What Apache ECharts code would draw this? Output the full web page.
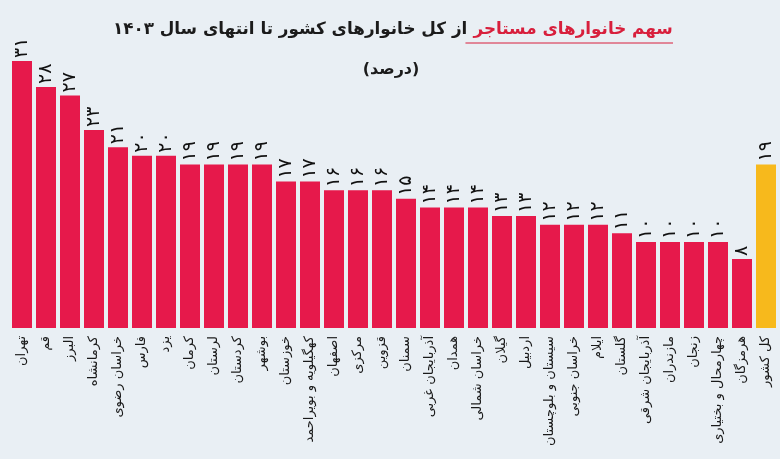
<!DOCTYPE html>
<html><head><meta charset="utf-8">
<script src="https://cdn.jsdelivr.net/npm/echarts@6/dist/echarts.min.js"></script>
<style>html,body{margin:0;padding:0;background:#e9eff4;}#c{width:780px;height:459px;}</style>
</head><body><div id="c"></div>
<script>
const categories = ['تهران','قم','البرز','کرمانشاه','خراسان رضوی','فارس','یزد','کرمان','لرستان','کردستان','بوشهر','خوزستان','کهگیلویه و بویراحمد','اصفهان','مرکزی','قزوین','سمنان','آذربایجان غربی','همدان','خراسان شمالی','گیلان','اردبیل','سیستان و بلوچستان','خراسان جنوبی','ایلام','گلستان','آذربایجان شرقی','مازندران','زنجان','چهارمحال و بختیاری','هرمزگان','کل کشور'];
const values = [31,28,27,23,21,20,20,19,19,19,19,17,17,16,16,16,15,14,14,14,13,13,12,12,12,11,10,10,10,10,8,19];
const highlight = ['کل کشور'];
const titleBlack = 'از کل خانوارهای کشور تا انتهای سال ۱۴۰۳';
const titleRed = 'سهم خانوارهای مستاجر';
const subtitle = '(درصد)';

const fa = n => String(n).replace(/[0-9]/g, d => '۰۱۲۳۴۵۶۷۸۹'[d]);

const FONT = '"DejaVu Sans", sans-serif';
const cv = document.createElement('canvas').getContext('2d');
cv.font = 'bold 20px ' + FONT;
const wB0 = cv.measureText(titleBlack).width, wR0 = cv.measureText(titleRed).width, wS0 = cv.measureText(' ').width;
const targetW = 560;
const fs = Math.min(22, 20 * targetW / (wB0 + wR0 + wS0));
const k = fs / 20;
const wB = wB0 * k, wR = wR0 * k, wS = wS0 * k;
const cx = 393;
const x0 = cx - (wB + wS + wR) / 2;
const redX = x0 + wB + wS;

const chart = echarts.init(document.getElementById('c'));
chart.setOption({
  backgroundColor: '#e9eff4',
  animation: false,
  grid: {left: 10, right: 2, top: 18, bottom: 131},
  xAxis: {
    type: 'category', data: categories,
    axisLine: {show: false}, axisTick: {show: false},
    axisLabel: {rotate: 90, interval: 0, margin: 8, color: '#1a1a1a', fontSize: 13, fontFamily: FONT}
  },
  yAxis: {type: 'value', min: 0, max: 36, show: false, splitLine: {show: false}},
  series: [{
    type: 'bar', barWidth: 20,
    data: values.map((v, i) => ({value: v, itemStyle: {color: highlight.includes(categories[i]) ? '#f7b91c' : '#e6194b'}})),
    label: {
      show: true, position: 'top', rotate: 90, align: 'left', verticalAlign: 'middle', distance: 3,
      formatter: p => fa(p.value), color: '#111', fontSize: 19, fontFamily: FONT
    }
  }],
  graphic: [
    {type: 'text', x: x0, y: 30, style: {text: titleBlack, font: 'bold ' + fs + 'px ' + FONT, fill: '#1b1b1b', verticalAlign: 'middle'}},
    {type: 'text', x: redX, y: 30, style: {text: titleRed, font: 'bold ' + fs + 'px ' + FONT, fill: '#d81f3c', verticalAlign: 'middle'}},
    {type: 'line', shape: {x1: redX - 8, y1: 43, x2: redX + wR, y2: 43}, style: {stroke: '#d81f3c', lineWidth: 1}},
    {type: 'text', x: 391, y: 70, style: {text: subtitle, font: 'bold 16px ' + FONT, fill: '#1b1b1b', align: 'center', verticalAlign: 'middle'}}
  ]
});
</script>
</body></html>
